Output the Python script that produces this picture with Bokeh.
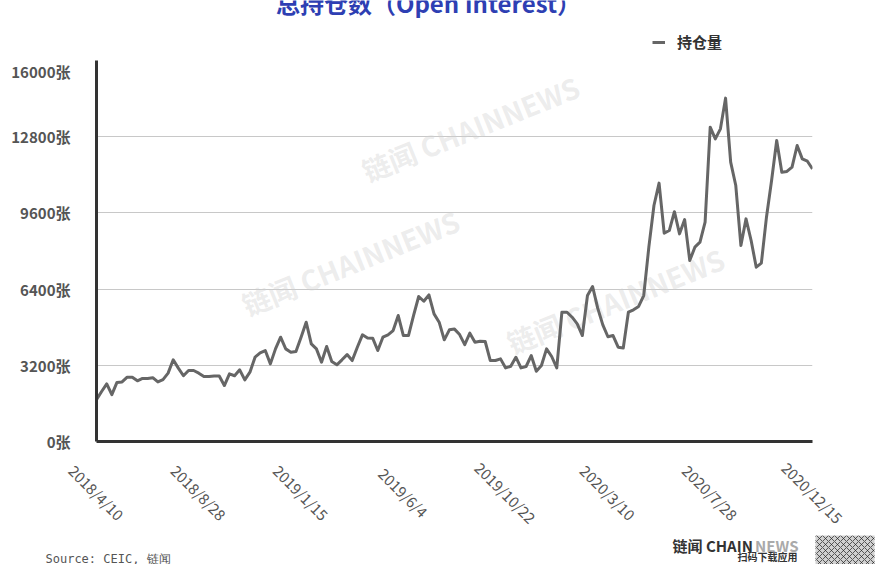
from math import pi, radians
import pandas as pd
from bokeh.plotting import figure
from bokeh.layouts import column
from bokeh.models import (Range1d, FixedTicker, Label, Legend, LegendItem,
                          BoxAnnotation, CustomJSTickFormatter)
from bokeh.embed import file_html
from bokeh.resources import INLINE

# ---------------- data ----------------
start_date = "2018-04-10"          # weekly series
open_interest = [
    1760, 2100, 2420, 1970, 2480, 2500, 2700, 2700, 2550, 2650,
    2650, 2680, 2500, 2600, 2870, 3430, 3080, 2760, 2980, 2980,
    2870, 2730, 2730, 2750, 2750, 2350, 2840, 2760, 3010, 2590,
    2910, 3540, 3720, 3820, 3260, 3890, 4380, 3890, 3750, 3780,
    4380, 5010, 4100, 3890, 3330, 3990, 3360, 3220, 3430, 3650,
    3400, 3960, 4480, 4350, 4340, 3820, 4380, 4480, 4660, 5290,
    4450, 4450, 5300, 6090, 5890, 6160, 5360, 5010, 4270, 4690,
    4720, 4490, 4070, 4550, 4170, 4210, 4200, 3400, 3400, 3470,
    3090, 3160, 3540, 3090, 3150, 3610, 2950, 3190, 3890, 3570,
    3090, 5430, 5430, 5220, 4940, 4450, 6130, 6510, 5600, 4900,
    4400, 4450, 3960, 3930, 5430, 5530, 5670, 6130, 8160, 9910,
    10850, 8750, 8860, 9650, 8720, 9320, 7600, 8160, 8370, 9210,
    13200, 12710, 13130, 14420, 11730, 10750, 8230, 9350, 8440, 7320,
    7490, 9420, 10960, 12640, 11310, 11340, 11520, 12430, 11870, 11770,
    11450,
]
x_tick_labels = ["2018/4/10", "2018/8/28", "2019/1/15", "2019/6/4",
                 "2019/10/22", "2020/3/10", "2020/7/28", "2020/12/15"]
y_ticks = [0, 3200, 6400, 9600, 12800, 16000]
y_unit = "张"
series_name = "持仓量"
title_text = "总持仓数（Open Interest）"
source_text = "Source: CEIC, 链闻"
brand_dark = "链闻 CHAIN"
brand_light = "NEWS"
brand_sub = "扫码下载应用"
watermark = "链闻 CHAINNEWS"

dates = pd.date_range(start_date, periods=len(open_interest), freq="7D")
date_strs = [f"{d.year}/{d.month}/{d.day}" for d in dates]
xs = list(range(len(open_interest)))
tick_pos = [date_strs.index(s) for s in x_tick_labels]

FONT = "Noto Sans CJK SC"
W = 875
TOP_H = 60                 # strip above the plot frame
FRAME_L, FRAME_R = 96, 812  # frame edges in page pixels
FRAME_H = 381
BOT_B = 10                 # main figure bottom border (axis line)
MAIN_H = FRAME_H + BOT_B
BOT_H = 564 - TOP_H - MAIN_H

X0, X1 = 0, len(open_interest) - 1
Y0, Y1 = y_ticks[0], y_ticks[-1]
k = (X1 - X0) / (FRAME_R - FRAME_L)


def dx(px):
    """page pixel x -> main x data units"""
    return X0 + (px - FRAME_L) * k


def strip(height, y_top):
    f = figure(width=W, height=height, output_backend="svg", toolbar_location=None,
               x_range=Range1d(dx(0), dx(W)), y_range=Range1d(y_top + height, y_top),
               x_axis_location=None, y_axis_location=None,
               min_border=0, min_border_left=0, min_border_right=0,
               min_border_top=0, min_border_bottom=0, frame_align=False)
    f.outline_line_color = None
    f.grid.visible = False
    f.background_fill_color = "white"
    f.border_fill_color = "white"
    return f


# ---------------- main chart ----------------
p = figure(width=W, height=MAIN_H, x_range=Range1d(X0, X1), y_range=Range1d(Y0, Y1),
           output_backend="svg", toolbar_location=None,
           min_border_left=FRAME_L, min_border_right=W - FRAME_R,
           min_border_top=0, min_border_bottom=BOT_B, frame_align=False)
p.outline_line_color = None
p.background_fill_color = "white"
p.border_fill_color = "white"

for cx, cy in [(470, 128), (350, 262), (615, 300)]:
    p.add_layout(Label(x=dx(cx), y=Y0 + (TOP_H + FRAME_H - cy) * (Y1 - Y0) / FRAME_H,
                       text=watermark, angle=radians(22),
                       text_align="center", text_baseline="middle",
                       text_font=FONT, text_font_size="28px", text_font_style="bold",
                       text_color="#d0d0d0", text_alpha=0.4, level="underlay"))

p.xgrid.grid_line_color = None
p.ygrid.grid_line_color = "#c8c8c8"
p.ygrid.grid_line_width = 1
p.yaxis.ticker = FixedTicker(ticks=y_ticks)
p.yaxis.formatter = CustomJSTickFormatter(args=dict(unit=y_unit),
                                          code="return tick.toFixed(0) + unit;")
p.yaxis.major_tick_line_color = None
p.yaxis.minor_tick_line_color = None
p.yaxis.major_label_standoff = 20
p.yaxis.axis_line_width = 3
p.yaxis.axis_line_color = "#333333"
p.yaxis.major_label_text_font = FONT
p.yaxis.major_label_text_font_size = "15px"
p.yaxis.major_label_text_font_style = "bold"
p.yaxis.major_label_text_color = "#555555"

p.xaxis.ticker = FixedTicker(ticks=[])
p.xaxis.major_tick_line_color = None
p.xaxis.minor_tick_line_color = None
p.xaxis.major_tick_out = 0
p.xaxis.major_label_standoff = 0
p.xaxis.axis_line_width = 3
p.xaxis.axis_line_color = "#333333"

r = p.line(xs, open_interest, line_color="#666666", line_width=3, line_join="round")

# ---------------- top strip: title + legend ----------------
top = strip(TOP_H, 0)
top.add_layout(Label(x=dx(428), y=19, text=title_text, text_align="center",
                     text_baseline="bottom", text_font=FONT,
                     text_font_size="24px", text_font_style="bold",
                     text_color="#2e3fb3"))
key = top.line([float("nan")], [float("nan")], line_color="#666666", line_width=3)
legend = Legend(items=[LegendItem(label=series_name, renderers=[key])],
                location=(652, 8), glyph_width=13, glyph_height=20,
                label_standoff=12, padding=0, margin=0, spacing=0,
                border_line_color=None, background_fill_alpha=0,
                label_text_font=FONT, label_text_font_size="15px",
                label_text_font_style="bold", label_text_color="#333333",
                label_height=20)
top.add_layout(legend)

# ---------------- bottom strip: tick labels, source, brand ----------------
bot = strip(BOT_H, TOP_H + MAIN_H)
for pos, lab in zip(tick_pos, x_tick_labels):
    bot.add_layout(Label(x=pos, y=492, text=lab, angle=-pi / 4,
                         text_align="center", text_baseline="middle",
                         text_font=FONT, text_font_size="15px",
                         text_color="#555555"))
bot.add_layout(Label(x=dx(45), y=558, text=source_text, text_align="left",
                     text_baseline="alphabetic", text_font="DejaVu Sans Mono",
                     text_font_size="12px", text_color="#555555"))
bot.add_layout(Label(x=dx(672), y=545, text=brand_dark, text_align="left",
                     text_baseline="middle", text_font=FONT, text_font_size="15px",
                     text_font_style="bold", text_color="#333333"))
bot.add_layout(Label(x=dx(798), y=545, text=brand_light, text_align="right",
                     text_baseline="middle", text_font=FONT, text_font_size="15px",
                     text_font_style="bold", text_color="#aaaaaa"))
bot.add_layout(Label(x=dx(797), y=556, text=brand_sub, text_align="right",
                     text_baseline="middle", text_font=FONT, text_font_size="10px",
                     text_font_style="bold", text_color="#333333"))
bot.add_layout(BoxAnnotation(left=dx(815), right=dx(874), top=535, bottom=570,
                             fill_color="#777777", fill_alpha=0.35,
                             hatch_pattern="diagonal_cross", hatch_color="#222222",
                             hatch_alpha=0.7, hatch_scale=6, line_color=None))

layout = column(top, p, bot, spacing=0)
open("out.html", "w").write(file_html(layout, INLINE))
